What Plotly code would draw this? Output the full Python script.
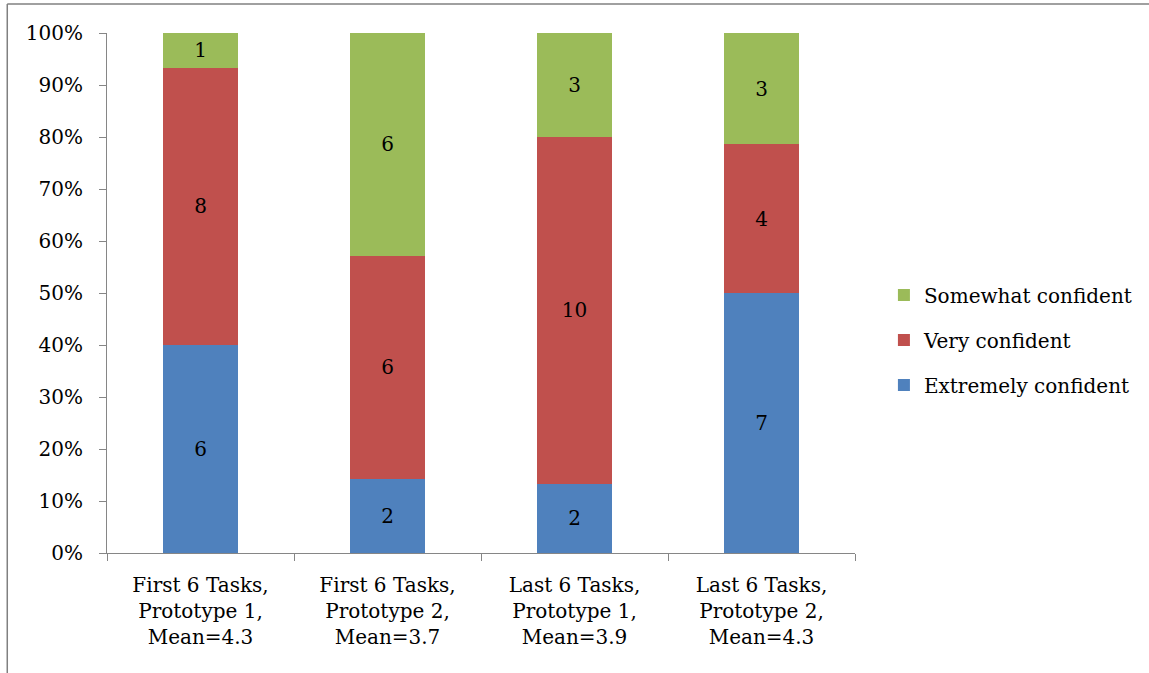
import plotly.graph_objects as go

# Response counts per condition
categories = [
    "First 6 Tasks,<br>Prototype 1,<br>Mean=4.3",
    "First 6 Tasks,<br>Prototype 2,<br>Mean=3.7",
    "Last 6 Tasks,<br>Prototype 1,<br>Mean=3.9",
    "Last 6 Tasks,<br>Prototype 2,<br>Mean=4.3",
]
extremely = [6, 2, 2, 7]
very = [8, 6, 10, 4]
somewhat = [1, 6, 3, 3]

# name, counts, colour, legend rank (top of legend first)
series = [
    ("Extremely confident", extremely, "#4F81BD", 3),
    ("Very confident", very, "#C0504D", 2),
    ("Somewhat confident", somewhat, "#9BBB59", 1),
]

totals = [a + b + c for a, b, c in zip(extremely, very, somewhat)]

FONT = "DejaVu Serif"
FS = 20
AXIS_GREY = "#868686"

fig = go.Figure()
for name, counts, color, rank in series:
    shares = [c / t for c, t in zip(counts, totals)]
    fig.add_trace(go.Bar(
        x=categories,
        y=shares,
        name=name,
        legendgroup=name,
        legendrank=rank,
        marker=dict(color=color, line=dict(width=0)),
        text=[str(c) for c in counts],
        textposition="inside",
        insidetextanchor="middle",
        textangle=0,
        constraintext="none",
        textfont=dict(family=FONT, size=FS, color="black"),
        width=0.405,
    ))

# Page frame (left and top edges visible)
L, R, T, B = 107, 292, 33, 120
W = 1149 - L - R
H = 673 - T - B


def px_x(p):
    return (p - L) / W


def px_y(p):
    return (673 - B - p) / H


frame = dict(color="#808080", width=1.5)
fig.add_shape(type="line", xref="paper", yref="paper",
              x0=px_x(7), x1=px_x(7), y0=px_y(4), y1=px_y(700), line=frame)
fig.add_shape(type="line", xref="paper", yref="paper",
              x0=px_x(7), x1=px_x(1200), y0=px_y(4), y1=px_y(4), line=frame)

fig.update_layout(
    width=1149,
    height=673,
    margin=dict(l=L, r=R, t=T, b=B),
    barmode="stack",
    plot_bgcolor="white",
    paper_bgcolor="white",
    font=dict(family=FONT, size=FS, color="black"),
    showlegend=True,
    legend=dict(
        x=px_x(886), xanchor="left",
        y=px_y(340), yanchor="middle",
        traceorder="grouped",
        tracegroupgap=16,
        font=dict(family=FONT, size=FS, color="black"),
        bgcolor="rgba(0,0,0,0)",
    ),
    xaxis=dict(
        showline=True, linecolor=AXIS_GREY, linewidth=1,
        ticks="outside", ticklen=7, tickcolor=AXIS_GREY, tickwidth=1,
        tickson="boundaries",
        showgrid=False,
        ticklabelstandoff=14,
        tickfont=dict(family=FONT, size=FS, color="black"),
    ),
    yaxis=dict(
        range=[0, 1],
        tickvals=[i / 10 for i in range(11)],
        tickformat=".0%",
        showline=True, linecolor=AXIS_GREY, linewidth=1,
        ticks="outside", ticklen=7, tickcolor=AXIS_GREY, tickwidth=1,
        showgrid=False,
        zeroline=False,
        ticklabelstandoff=12,
        tickfont=dict(family=FONT, size=FS, color="black"),
    ),
)

fig.write_html("out.html")
